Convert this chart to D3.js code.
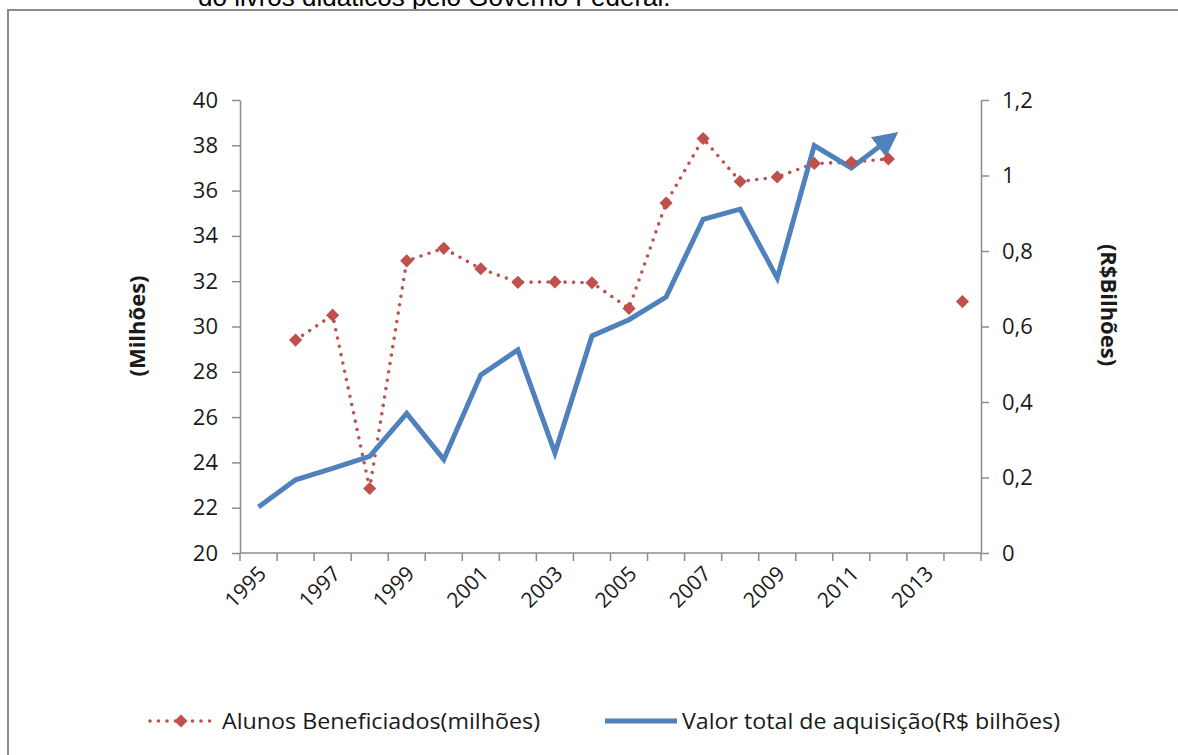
<!DOCTYPE html>
<html>
<head>
<meta charset="utf-8">
<script src="https://cdn.jsdelivr.net/npm/d3@7"></script>
<style>
  html, body { margin: 0; padding: 0; background: #fff; }
  svg { display: block; }
  text { font-family: "Open Sans", Lato, sans-serif; fill: #1a1a1a; }
</style>
</head>
<body>
<div id="chart"></div>
<script>
// Categories (years) and series
const YEARS = d3.range(1995, 2015);
const ALUNOS = [null, 29.4, 30.5, 22.85, 32.9, 33.45, 32.55, 31.95, 31.97, 31.93,
  30.8, 35.45, 38.3, 36.4, 36.6, 37.2, 37.25, 37.4, null, 31.1];
const VALOR = [0.122, 0.194, 0.224, 0.256, 0.37, 0.248, 0.472, 0.538, 0.265, 0.575,
  0.618, 0.678, 0.884, 0.911, 0.728, 1.079, 1.02, 1.095, null, null];
const LEFT_TICKS = d3.range(20, 41, 2);
const RIGHT_TICKS = [0, 0.2, 0.4, 0.6, 0.8, 1, 1.2];
const YEAR_LABELS = YEARS.filter(y => y % 2 === 1);

const W = 1178, H = 755;
const RED = '#C0504D', BLUE = '#4F81BD', AXIS = '#8c8c8c';
const FS = 21;

const svg = d3.select('#chart').append('svg').attr('width', W).attr('height', H);

// ─── FRAME + clipped caption (cut off at the top, as in the source) ───
svg.append('text')
  .attr('x', 198).attr('y', 6)
  .style('font-family', '"Liberation Sans", Arial, sans-serif')
  .attr('font-size', 26).style('fill', '#000')
  .text('do livros didáticos pelo Governo Federal.');

svg.append('rect')
  .attr('x', 0).attr('y', 10).attr('width', W).attr('height', H)
  .attr('fill', '#fff');
svg.append('path')
  .attr('d', `M8,${H} V10 H${W}`)
  .attr('fill', 'none').attr('stroke', AXIS).attr('stroke-width', 2);

// ─── SCALES ───
const x = d3.scaleBand().domain(YEARS).range([240, 981]).padding(0);
const cx = y => x(y) + x.bandwidth() / 2;
const yL = d3.scaleLinear().domain([20, 40]).range([553, 100]);
const yR = d3.scaleLinear().domain([0, 1.2]).range([553, 100]);

const fmtR = d => d3.format('.1~f')(d).replace('.', ',');

// Left axis
const gL = svg.append('g').attr('transform', 'translate(240,0)')
  .call(d3.axisLeft(yL).tickValues(LEFT_TICKS).tickSize(8).tickPadding(14).tickSizeOuter(0));
// Right axis
const gR = svg.append('g').attr('transform', 'translate(981,0)')
  .call(d3.axisRight(yR).tickValues(RIGHT_TICKS).tickFormat(fmtR).tickSize(8).tickPadding(13).tickSizeOuter(0));

[gL, gR].forEach(g => {
  g.select('.domain').attr('stroke', AXIS).attr('stroke-width', 1.5);
  g.selectAll('.tick line').attr('stroke', AXIS).attr('stroke-width', 1.5);
  g.selectAll('.tick text').attr('font-size', FS + 1)
    .style('font-family', '"Open Sans", sans-serif').attr('fill', '#1a1a1a');
});

// Bottom axis (category boundaries as ticks)
const gX = svg.append('g');
gX.append('line')
  .attr('x1', 240).attr('x2', 981).attr('y1', yL(20)).attr('y2', yL(20))
  .attr('stroke', AXIS).attr('stroke-width', 1.5);
gX.selectAll('line.tk').data(YEARS.concat([null]))
  .enter().append('line').attr('class', 'tk')
  .attr('x1', (d, i) => i < YEARS.length ? x(d) : x.range()[1])
  .attr('x2', (d, i) => i < YEARS.length ? x(d) : x.range()[1])
  .attr('y1', yL(20)).attr('y2', yL(20) + 8)
  .attr('stroke', AXIS).attr('stroke-width', 1.5);
gX.selectAll('text').data(YEAR_LABELS)
  .enter().append('text')
  .attr('text-anchor', 'end')
  .attr('font-size', FS)
  .attr('transform', d => `translate(${cx(d) + 9},${yL(20) + 22}) rotate(-45)`)
  .text(d => d);

// Axis titles
svg.append('text')
  .attr('transform', 'translate(145,326) rotate(-90)')
  .attr('text-anchor', 'middle').attr('font-size', FS + 1).attr('font-weight', 'bold')
  .text('(Milhões)');
svg.append('text')
  .attr('transform', 'translate(1101,305) rotate(90)')
  .attr('text-anchor', 'middle').attr('font-size', FS + 1).attr('font-weight', 'bold')
  .text('(R$Bilhões)');

// ─── SERIES ───
const defs = svg.append('defs');
defs.append('marker')
  .attr('id', 'arrow').attr('viewBox', '0 0 10 10')
  .attr('refX', 5).attr('refY', 5)
  .attr('markerWidth', 5).attr('markerHeight', 5)
  .attr('orient', 'auto').attr('markerUnits', 'strokeWidth')
  .append('path').attr('d', 'M0,0 L10,5 L0,10 Z').attr('fill', BLUE);

const alunos = YEARS.map((yr, i) => ({ yr, v: ALUNOS[i] }));
const valor = YEARS.map((yr, i) => ({ yr, v: VALOR[i] })).filter(d => d.v != null);

svg.append('path')
  .attr('d', d3.line().defined(d => d.v != null).x(d => cx(d.yr)).y(d => yL(d.v))(alunos))
  .attr('fill', 'none').attr('stroke', RED).attr('stroke-width', 3.6)
  .attr('stroke-linecap', 'round').attr('stroke-dasharray', '0 8.5');

svg.append('path')
  .attr('d', d3.line().x(d => cx(d.yr)).y(d => yR(d.v))(valor))
  .attr('fill', 'none').attr('stroke', BLUE).attr('stroke-width', 5)
  .attr('stroke-linejoin', 'miter').attr('marker-end', 'url(#arrow)');

const diamond = d3.symbol().type(d3.symbolDiamond2).size(110);
svg.selectAll('path.pt').data(alunos.filter(d => d.v != null))
  .enter().append('path').attr('class', 'pt')
  .attr('d', diamond)
  .attr('transform', d => `translate(${cx(d.yr)},${yL(d.v)})`)
  .attr('fill', RED);

// ─── LEGEND ───
const lg = svg.append('g').attr('transform', 'translate(0,721)');
lg.append('line').attr('x1', 150).attr('x2', 212).attr('y1', 0).attr('y2', 0)
  .attr('stroke', RED).attr('stroke-width', 3.6).attr('stroke-linecap', 'round')
  .attr('stroke-dasharray', '0 8.5');
lg.append('path').attr('d', diamond).attr('transform', 'translate(181,0)').attr('fill', RED);
lg.append('text').attr('x', 222).attr('y', 8).attr('font-size', FS)
  .attr('textLength', 318).attr('lengthAdjust', 'spacingAndGlyphs')
  .text('Alunos Beneficiados(milhões)');
lg.append('line').attr('x1', 605).attr('x2', 677).attr('y1', 0).attr('y2', 0)
  .attr('stroke', BLUE).attr('stroke-width', 5);
lg.append('text').attr('x', 682).attr('y', 8).attr('font-size', FS)
  .attr('textLength', 378).attr('lengthAdjust', 'spacingAndGlyphs')
  .text('Valor total de aquisição(R$ bilhões)');
</script>
</body>
</html>
